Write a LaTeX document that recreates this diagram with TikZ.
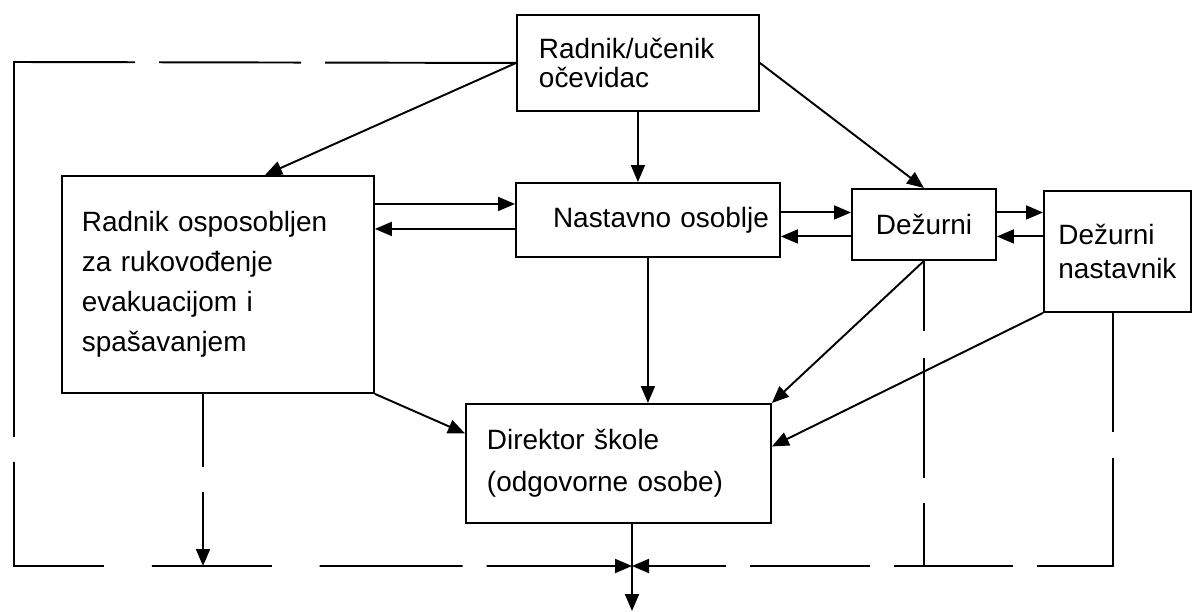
\documentclass[tikz,border=0pt]{standalone}
\usepackage{fontspec}
\setmainfont{Liberation Sans}
\usetikzlibrary{arrows.meta,calc}

\tikzset{every picture/.style={line width=1.1pt}}

\begin{document}
\begin{tikzpicture}[
    x=0.02cm, y=-0.02cm,
    box/.style={draw, anchor=north west, inner sep=0pt},
    txt/.style={font=\fontsize{15.9}{#1}\selectfont},
    arr/.style={-{Triangle[length=0.34cm,width=0.28cm]}},
]
    \useasboundingbox (0,0) rectangle (1197,612);

    \node[box, txt=17, minimum width=4.84cm, minimum height=1.92cm, text width=3.96cm, align=left] (top) at (516,14) {Radnik/učenik\\očevidac};
    \node[box, txt=22.8, minimum width=6.24cm, minimum height=4.34cm, text width=5.44cm, align=left] (lbox) at (61,175) {Radnik osposobljen\\za rukovođenje\\evakuacijom i\\spašavanjem};
    \node[box, txt=19, minimum width=5.28cm, minimum height=1.48cm, text width=4.84cm, align=right] (nast) at (515,182) {Nastavno osoblje};
    \node[box, txt=19, minimum width=2.88cm, minimum height=1.42cm, align=center] (dez) at (851,188) {Dežurni};
    \node[box, txt=19.9, minimum width=2.94cm, minimum height=2.42cm, align=left] (dezn) at (1043,190) {Dežurni\\nastavnik};
    \node[box, txt=23.9, minimum width=6.1cm, minimum height=2.38cm, text width=5.26cm, align=left] (dir) at (465,403) {Direktor škole\\(odgovorne osobe)};

    \coordinate (tl) at (14,62);
    \coordinate (bl) at (14,566);
    \coordinate (lb) at (203,566);
    \coordinate (jn) at (632,566);
    \coordinate (br) at (1113,566);
    \coordinate (out) at (632,611);

    % from the eyewitness
    \draw[arr] (top.west) -- ($(lbox.north west)!0.65!(lbox.north east)$);
    \draw[arr] (top.south) -- (top.south |- nast.north);
    \draw[arr] (top.east) -- (dez.north);

    % both ways between the boxes in the middle row
    \draw[arr] ([yshift=0.32cm]nast.west -| lbox.east) -- ([yshift=0.32cm]nast.west);
    \draw[arr] ([yshift=-0.18cm]nast.west) -- ([yshift=-0.18cm]nast.west -| lbox.east);
    \draw[arr] ([yshift=0.24cm]dez.west -| nast.east) -- ([yshift=0.24cm]dez.west);
    \draw[arr] ([yshift=-0.24cm]dez.west) -- ([yshift=-0.24cm]dez.west -| nast.east);
    \draw[arr] ([yshift=0.24cm]dez.east) -- ([yshift=0.24cm]dez.east -| dezn.west);
    \draw[arr] ([yshift=-0.24cm]dez.east -| dezn.west) -- ([yshift=-0.24cm]dez.east);

    % towards the director
    \draw[arr] (nast.south) -- (nast.south |- dir.north);
    \draw[arr] (lbox.south east) -- ([yshift=0.6cm]dir.west);
    \draw[arr] (dez.south) -- (dir.north east);
    \draw[arr] (dezn.south west) -- ([yshift=0.34cm]dir.east);

    % dashed frame
    \draw[arr, dash pattern=on 3.82cm off 0.48cm on 2.84cm off 0.48cm on 9.92cm off 0.5cm on 3.88cm off 0.96cm on 2.4cm off 0.96cm on 2.86cm off 0.48cm on 6cm off 0.1cm]
        (top.west) -- (tl) -- (bl) -- (jn);
    \draw[arr, dash pattern=on 2.38cm off 0.52cm on 3.68cm off 0.48cm on 2.38cm off 0.48cm on 2.4cm off 0.48cm on 6cm off 0.1cm]
        (dezn.south -| br) -- (br) -- (jn);
    \draw[dash pattern=on 1.4cm off 0.54cm on 2.4cm off 0.5cm on 4cm off 0.1cm]
        (dez.south) -- (dez.south |- jn);
    \draw[arr, dash pattern=on 1.46cm off 0.5cm on 5cm off 0.1cm]
        (lbox.south -| lb) -- (lb);
    \draw[arr] (dir.south -| jn) -- (out);
\end{tikzpicture}
\end{document}
